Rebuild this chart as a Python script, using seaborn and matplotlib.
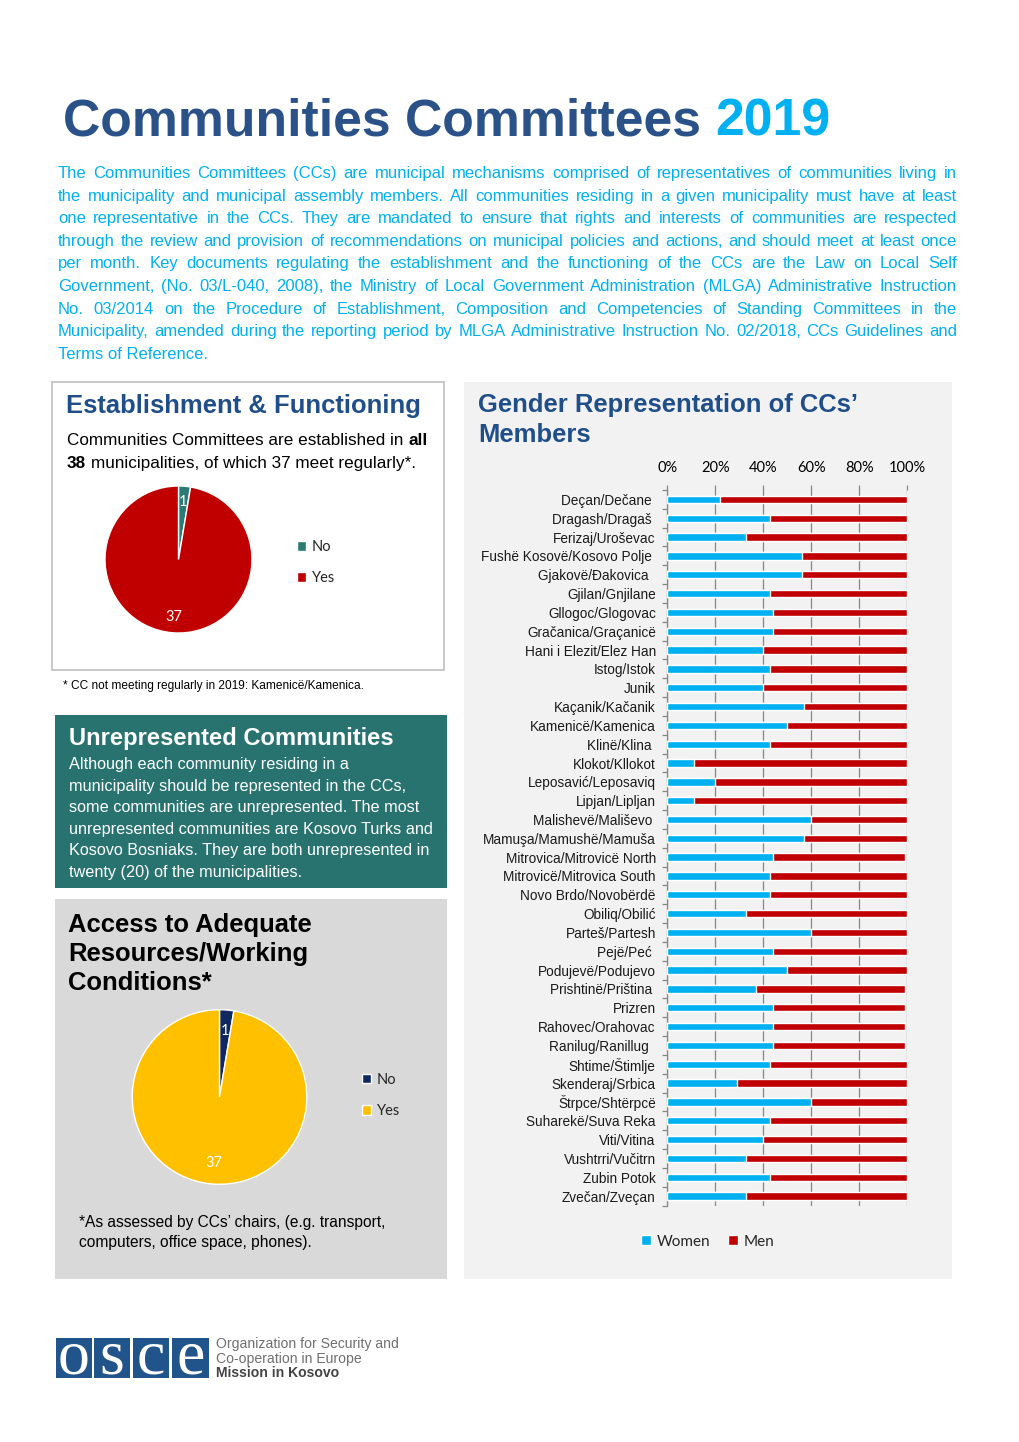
import matplotlib
matplotlib.use("Agg")
import matplotlib.pyplot as plt
from matplotlib.patches import Rectangle, Patch
import seaborn as sns
import pandas as pd
import numpy as np

# ---------------- DATA ----------------
municipalities = [
    "Deçan/Dečane ", "Dragash/Dragaš ", "Ferizaj/Uroševac", "Fushë Kosovë/Kosovo Polje ",
    "Gjakovë/Đakovica  ", "Gjilan/Gnjilane", "Gllogoc/Glogovac", "Gračanica/Graçanicë",
    "Hani i Elezit/Elez Han", "Istog/Istok", "Junik", "Kaçanik/Kačanik", "Kamenicë/Kamenica",
    "Klinë/Klina ", "Klokot/Kllokot", "Leposavić/Leposaviq", "Lipjan/Lipljan",
    "Malishevë/Mališevo ", "Mamuşa/Mamushë/Mamuša", "Mitrovica/Mitrovicë North",
    "Mitrovicë/Mitrovica South", "Novo Brdo/Novobërdë", "Obiliq/Obilić", "Parteš/Partesh",
    "Pejë/Peć ", "Podujevë/Podujevo", "Prishtinë/Priština ", "Prizren", "Rahovec/Orahovac",
    "Ranilug/Ranillug  ", "Shtime/Štimlje", "Skenderaj/Srbica", "Štrpce/Shtërpcë",
    "Suharekë/Suva Reka", "Viti/Vitina", "Vushtrri/Vučitrn", "Zubin Potok", "Zvečan/Zveçan",
]
women_pct = [22, 43, 33, 56, 56, 43, 44, 44, 40, 43, 40, 57, 50, 43, 11, 20, 11, 60, 57, 44,
             43, 43, 33, 60, 44, 50, 37, 44, 44, 44, 43, 29, 60, 43, 40, 33, 43, 33]
men_pct = [78, 57, 67, 44, 44, 57, 56, 56, 60, 57, 60, 43, 50, 57, 89, 80, 89, 40, 43, 55,
           57, 57, 67, 40, 56, 50, 62, 55, 55, 55, 57, 71, 40, 57, 60, 67, 57, 67]
gender_series = ["Women", "Men"]
pct_ticks = [0, 20, 40, 60, 80, 100]
pct_tick_labels = ["0%", "20%", "40%", "60%", "80%", "100%"]

pie_labels = ["No", "Yes"]
functioning_counts = [1, 37]
resources_counts = [1, 37]

title_main = "Communities Committees"
title_year = "2019"
intro_lines = [
    "The Communities Committees (CCs) are municipal mechanisms comprised of representatives of communities living in",
    "the municipality and municipal assembly members. All communities residing in a given municipality must have at least",
    "one representative in the CCs. They are mandated to ensure that rights and interests of communities are respected",
    "through the review and provision of recommendations on municipal policies and actions, and should meet at least once",
    "per month. Key documents regulating the establishment and the functioning of the CCs are the Law on Local Self",
    "Government, (No. 03/L-040, 2008), the Ministry of Local Government Administration (MLGA) Administrative Instruction",
    "No. 03/2014 on the Procedure of Establishment, Composition and Competencies of Standing Committees in the",
    "Municipality, amended during the reporting period by MLGA Administrative Instruction No. 02/2018, CCs Guidelines and",
    "Terms of Reference.",
]
unrep_lines = [
    "Although each community residing in a",
    "municipality should be represented in the CCs,",
    "some communities are unrepresented. The most",
    "unrepresented communities are Kosovo Turks and",
    "Kosovo Bosniaks. They are both unrepresented in",
    "twenty (20) of the municipalities.",
]
access_title_lines = ["Access to Adequate", "Resources/Working", "Conditions*"]
access_note_lines = ["*As assessed by CCs\u2019 chairs, (e.g. transport,",
                     "computers, office space, phones)."]

# ---------------- STYLE ----------------
sns.set_style("white")
SANS = ["Liberation Sans", "DejaVu Sans"]
CAL = ["Lato", "DejaVu Sans"]
plt.rcParams["font.family"] = SANS

C_TITLE = "#2A5288"
C_CYAN = "#00B0F0"
C_HEAD = "#1F4E89"
C_TEAL_BOX = "#28736F"
C_TEAL = "#2B7A74"
C_RED = "#C00000"
C_NAVY = "#0F2960"
C_YELLOW = "#FFC000"
C_WOMEN = "#00B0F0"
C_MEN = "#C00000"
C_GRID = "#868686"

W, H = 1020, 1442
fig = plt.figure(figsize=(W / 100, H / 100), dpi=100)
fig.patch.set_facecolor("white")
renderer = fig.canvas.get_renderer()


def fx(x):
    return x / W


def fy(y):
    return 1 - y / H


def box(x0, y0, x1, y1, fc, ec="none", lw=0):
    r = Rectangle((fx(x0), fy(y1)), (x1 - x0) / W, (y1 - y0) / H, transform=fig.transFigure,
                  facecolor=fc, edgecolor=ec, linewidth=lw, zorder=-5)
    fig.patches.append(r)


def width_of(s, **kw):
    t = fig.text(0, 0, s, **kw)
    w = t.get_window_extent(renderer).width
    t.remove()
    return w


def advance(s, **kw):
    return width_of(s + "|", **kw) - width_of("|", **kw)


def fit_size(s, target, base=12, **kw):
    return base * target / width_of(s, fontsize=base, **kw)


def txt(x, y, s, **kw):
    kw.setdefault("va", "baseline")
    kw.setdefault("ha", "left")
    return fig.text(fx(x), fy(y), s, **kw)


# ---------------- PANEL BACKGROUNDS ----------------
box(52, 382, 444, 670, "white", ec="#BFBFBF", lw=1.2)
box(55, 715, 447, 888, C_TEAL_BOX)
box(55, 899, 447, 1279, "#D9D9D9")
box(464, 382, 952, 1279, "#F2F2F2")

# ---------------- MAIN TITLE ----------------
full_title = title_main + " " + title_year
fs_title = fit_size(full_title, 767, base=40, family=SANS, fontweight="bold")
w_full = width_of(full_title, fontsize=fs_title, family=SANS, fontweight="bold")
w_year = width_of(title_year, fontsize=fs_title, family=SANS, fontweight="bold")
txt(63, 136, title_main, fontsize=fs_title, fontweight="bold", color=C_TITLE)
txt(63 + w_full - w_year, 136, title_year, fontsize=fs_title, fontweight="bold", color=C_CYAN)

# ---------------- INTRO PARAGRAPH (justified) ----------------
P_LEFT, P_RIGHT = 58, 957
maxw = max(width_of(l, fontsize=12, family=SANS) for l in intro_lines[:-1])
fs_p = min(12.0, 12.0 * (P_RIGHT - P_LEFT - 4) / maxw)
for i, line in enumerate(intro_lines):
    yb = 178 + i * 22.6
    if i == len(intro_lines) - 1:
        txt(P_LEFT, yb, line, fontsize=fs_p, color=C_CYAN)
        continue
    words = line.split(" ")
    ws = [width_of(w, fontsize=fs_p, family=SANS) for w in words]
    gap = (P_RIGHT - P_LEFT - sum(ws)) / (len(words) - 1)
    x = P_LEFT
    for w, wd in zip(words, ws):
        txt(x, yb, w, fontsize=fs_p, color=C_CYAN)
        x += wd + gap

# ---------------- ESTABLISHMENT & FUNCTIONING ----------------
fs_h = fit_size("Establishment & Functioning", 354, base=18, family=SANS, fontweight="bold")
txt(66, 413, "Establishment & Functioning", fontsize=fs_h, fontweight="bold", color=C_HEAD)
fs_b = fit_size("Communities Committees are established in all", 358, base=11.5, family=SANS)
part1 = "Communities Committees are established in "
txt(67, 445, part1, fontsize=fs_b, color="black")
txt(67 + advance(part1, fontsize=fs_b, family=SANS), 445, "all", fontsize=fs_b,
    fontweight="bold", color="black")
txt(67, 468, "38", fontsize=fs_b, fontweight="bold", color="black")
txt(67 + advance("38 ", fontsize=fs_b, family=SANS, fontweight="bold"), 468,
    "municipalities, of which 37 meet regularly*.", fontsize=fs_b, color="black")

R1 = 73.5
S1 = 80
ax1 = fig.add_axes([fx(178.5 - S1), fy(559.5 + S1), 2 * S1 / W, 2 * S1 / H])
tot1 = sum(functioning_counts)
w1, _, at1 = ax1.pie(functioning_counts, colors=[C_TEAL, C_RED], startangle=90, counterclock=False,
                     radius=R1 / S1, autopct=lambda p: f"{p * tot1 / 100:.0f}", pctdistance=0.78,
                     textprops=dict(color="white", fontsize=10.5, family=CAL))
ax1.set_xlim(-1, 1)
ax1.set_ylim(-1, 1)
ax1.set_facecolor("none")
fig.legend(w1, pie_labels, loc="center left", bbox_to_anchor=(fx(297), fy(562.5)), frameon=False,
           prop=dict(family=CAL, size=10.5), handlelength=0.65, handleheight=0.65,
           handletextpad=0.35, labelspacing=1.15, borderpad=0, borderaxespad=0)

fs_fn = fit_size("* CC not meeting regularly in 2019: Kamenicë/Kamenica.", 304, base=8, family=SANS)
txt(63, 689, "* CC not meeting regularly in 2019: Kamenicë/Kamenica.", fontsize=fs_fn, color="black")

# ---------------- UNREPRESENTED COMMUNITIES ----------------
fs_u = fit_size("Unrepresented Communities", 325, base=17, family=SANS, fontweight="bold")
txt(69, 745, "Unrepresented Communities", fontsize=fs_u, fontweight="bold", color="white")
fs_ub = fit_size(unrep_lines[3], 363, base=11, family=SANS)
for i, line in enumerate(unrep_lines):
    txt(69, 769 + i * 21.6, line, fontsize=fs_ub, color="white")

# ---------------- ACCESS TO RESOURCES ----------------
fs_a = fit_size(access_title_lines[0], 244, base=18, family=SANS, fontweight="bold")
for i, line in enumerate(access_title_lines):
    txt(68, 932 + i * 29, line, fontsize=fs_a, fontweight="bold", color="black")

R2 = 87.3
S2 = 95
ax2 = fig.add_axes([fx(219.5 - S2), fy(1097 + S2), 2 * S2 / W, 2 * S2 / H])
tot2 = sum(resources_counts)
w2, _, at2 = ax2.pie(resources_counts, colors=[C_NAVY, C_YELLOW], startangle=90, counterclock=False,
                     radius=R2 / S2, autopct=lambda p: f"{p * tot2 / 100:.0f}", pctdistance=0.76,
                     textprops=dict(color="white", fontsize=10.5, family=CAL))
ax2.set_xlim(-1, 1)
ax2.set_ylim(-1, 1)
ax2.set_facecolor("none")
fig.legend(w2, pie_labels, loc="center left", bbox_to_anchor=(fx(362), fy(1095.5)), frameon=False,
           prop=dict(family=CAL, size=10.5), handlelength=0.65, handleheight=0.65,
           handletextpad=0.35, labelspacing=1.2, borderpad=0, borderaxespad=0)

fs_an = fit_size(access_note_lines[0], 305, base=11, family=SANS)
for i, line in enumerate(access_note_lines):
    txt(79, 1227 + i * 20.5, line, fontsize=fs_an, color="black")

# ---------------- GENDER REPRESENTATION ----------------
fs_g = fit_size("Gender Representation of CCs\u2019", 380, base=18, family=SANS, fontweight="bold")
txt(478, 412, "Gender Representation of CCs\u2019", fontsize=fs_g, fontweight="bold", color=C_HEAD)
txt(478, 442, "Members", fontsize=fs_g, fontweight="bold", color=C_HEAD)

df = pd.DataFrame({"Municipality": municipalities, "Women": women_pct, "Men": men_pct})
df["Total"] = df["Women"] + df["Men"]

# plot area 490..1205 px; outward top tick marks reach up to 485 px
axb = fig.add_axes([fx(667.3), fy(1205.5), 240 / W, 715.5 / H])
axb.set_facecolor("none")
sns.barplot(data=df, x="Total", y="Municipality", orient="h", color=C_MEN, saturation=1,
            width=0.39, errorbar=None, ax=axb, zorder=3)
sns.barplot(data=df, x="Women", y="Municipality", orient="h", color=C_WOMEN, saturation=1,
            width=0.39, errorbar=None, ax=axb, zorder=4)
n = len(municipalities)
axb.set_xlim(0, 100)
axb.set_ylim(n - 0.5, -0.5)
axb.set_xlabel("")
axb.set_ylabel("")
axb.xaxis.tick_top()
axb.set_xticks(pct_ticks)
axb.set_xticklabels(pct_tick_labels, family=CAL, fontsize=10.5, color="black")
axb.tick_params(axis="x", which="major", length=3.6, width=0.9, color=C_GRID, pad=7,
                top=True, bottom=False)
fs_cat = fit_size("Fushë Kosovë/Kosovo Polje", 171, base=10, family=SANS)
axb.set_yticks(range(n))
axb.set_yticklabels(municipalities, fontsize=fs_cat, color="#1a1a1a", family=SANS)
axb.set_yticks(np.arange(-0.5, n, 1), minor=True)
axb.tick_params(axis="y", which="major", length=0, pad=8.3)
axb.tick_params(axis="y", which="minor", length=3.5, width=0.9, color=C_GRID, left=True)
axb.grid(axis="x", color=C_GRID, linewidth=0.9)
axb.grid(axis="y", visible=False)
axb.set_axisbelow(True)
for s in ["top", "right", "bottom"]:
    axb.spines[s].set_visible(False)
axb.spines["left"].set_color(C_GRID)
axb.spines["left"].set_linewidth(0.9)

handles = [Patch(facecolor=C_WOMEN), Patch(facecolor=C_MEN)]
fig.legend(handles, gender_series, loc="center left", bbox_to_anchor=(fx(641), fy(1241.5)),
           ncol=2, frameon=False, prop=dict(family=CAL, size=11), handlelength=0.65,
           handleheight=0.65, handletextpad=0.35, columnspacing=1.2, borderpad=0, borderaxespad=0)

# ---------------- OSCE LOGO ----------------
logo_boxes = [(56, 92), (94, 130), (133, 169), (172, 209)]
for (x0, x1), letter in zip(logo_boxes, "osce"):
    box(x0, 1338, x1, 1378, "#22548C")
    txt((x0 + x1) / 2, 1373.5, letter, fontsize=46, color="white", ha="center",
        family=["Liberation Serif", "DejaVu Serif"])
fs_l = fit_size("Organization for Security and", 181, base=9.5, family=SANS)
txt(216, 1348, "Organization for Security and", fontsize=fs_l, color="#6F6F6F")
txt(216, 1362.5, "Co-operation in Europe", fontsize=fs_l, color="#6F6F6F")
txt(216, 1377, "Mission in Kosovo", fontsize=fs_l, fontweight="bold", color="#444444")

fig.savefig("out.png", dpi=100, facecolor="white")
